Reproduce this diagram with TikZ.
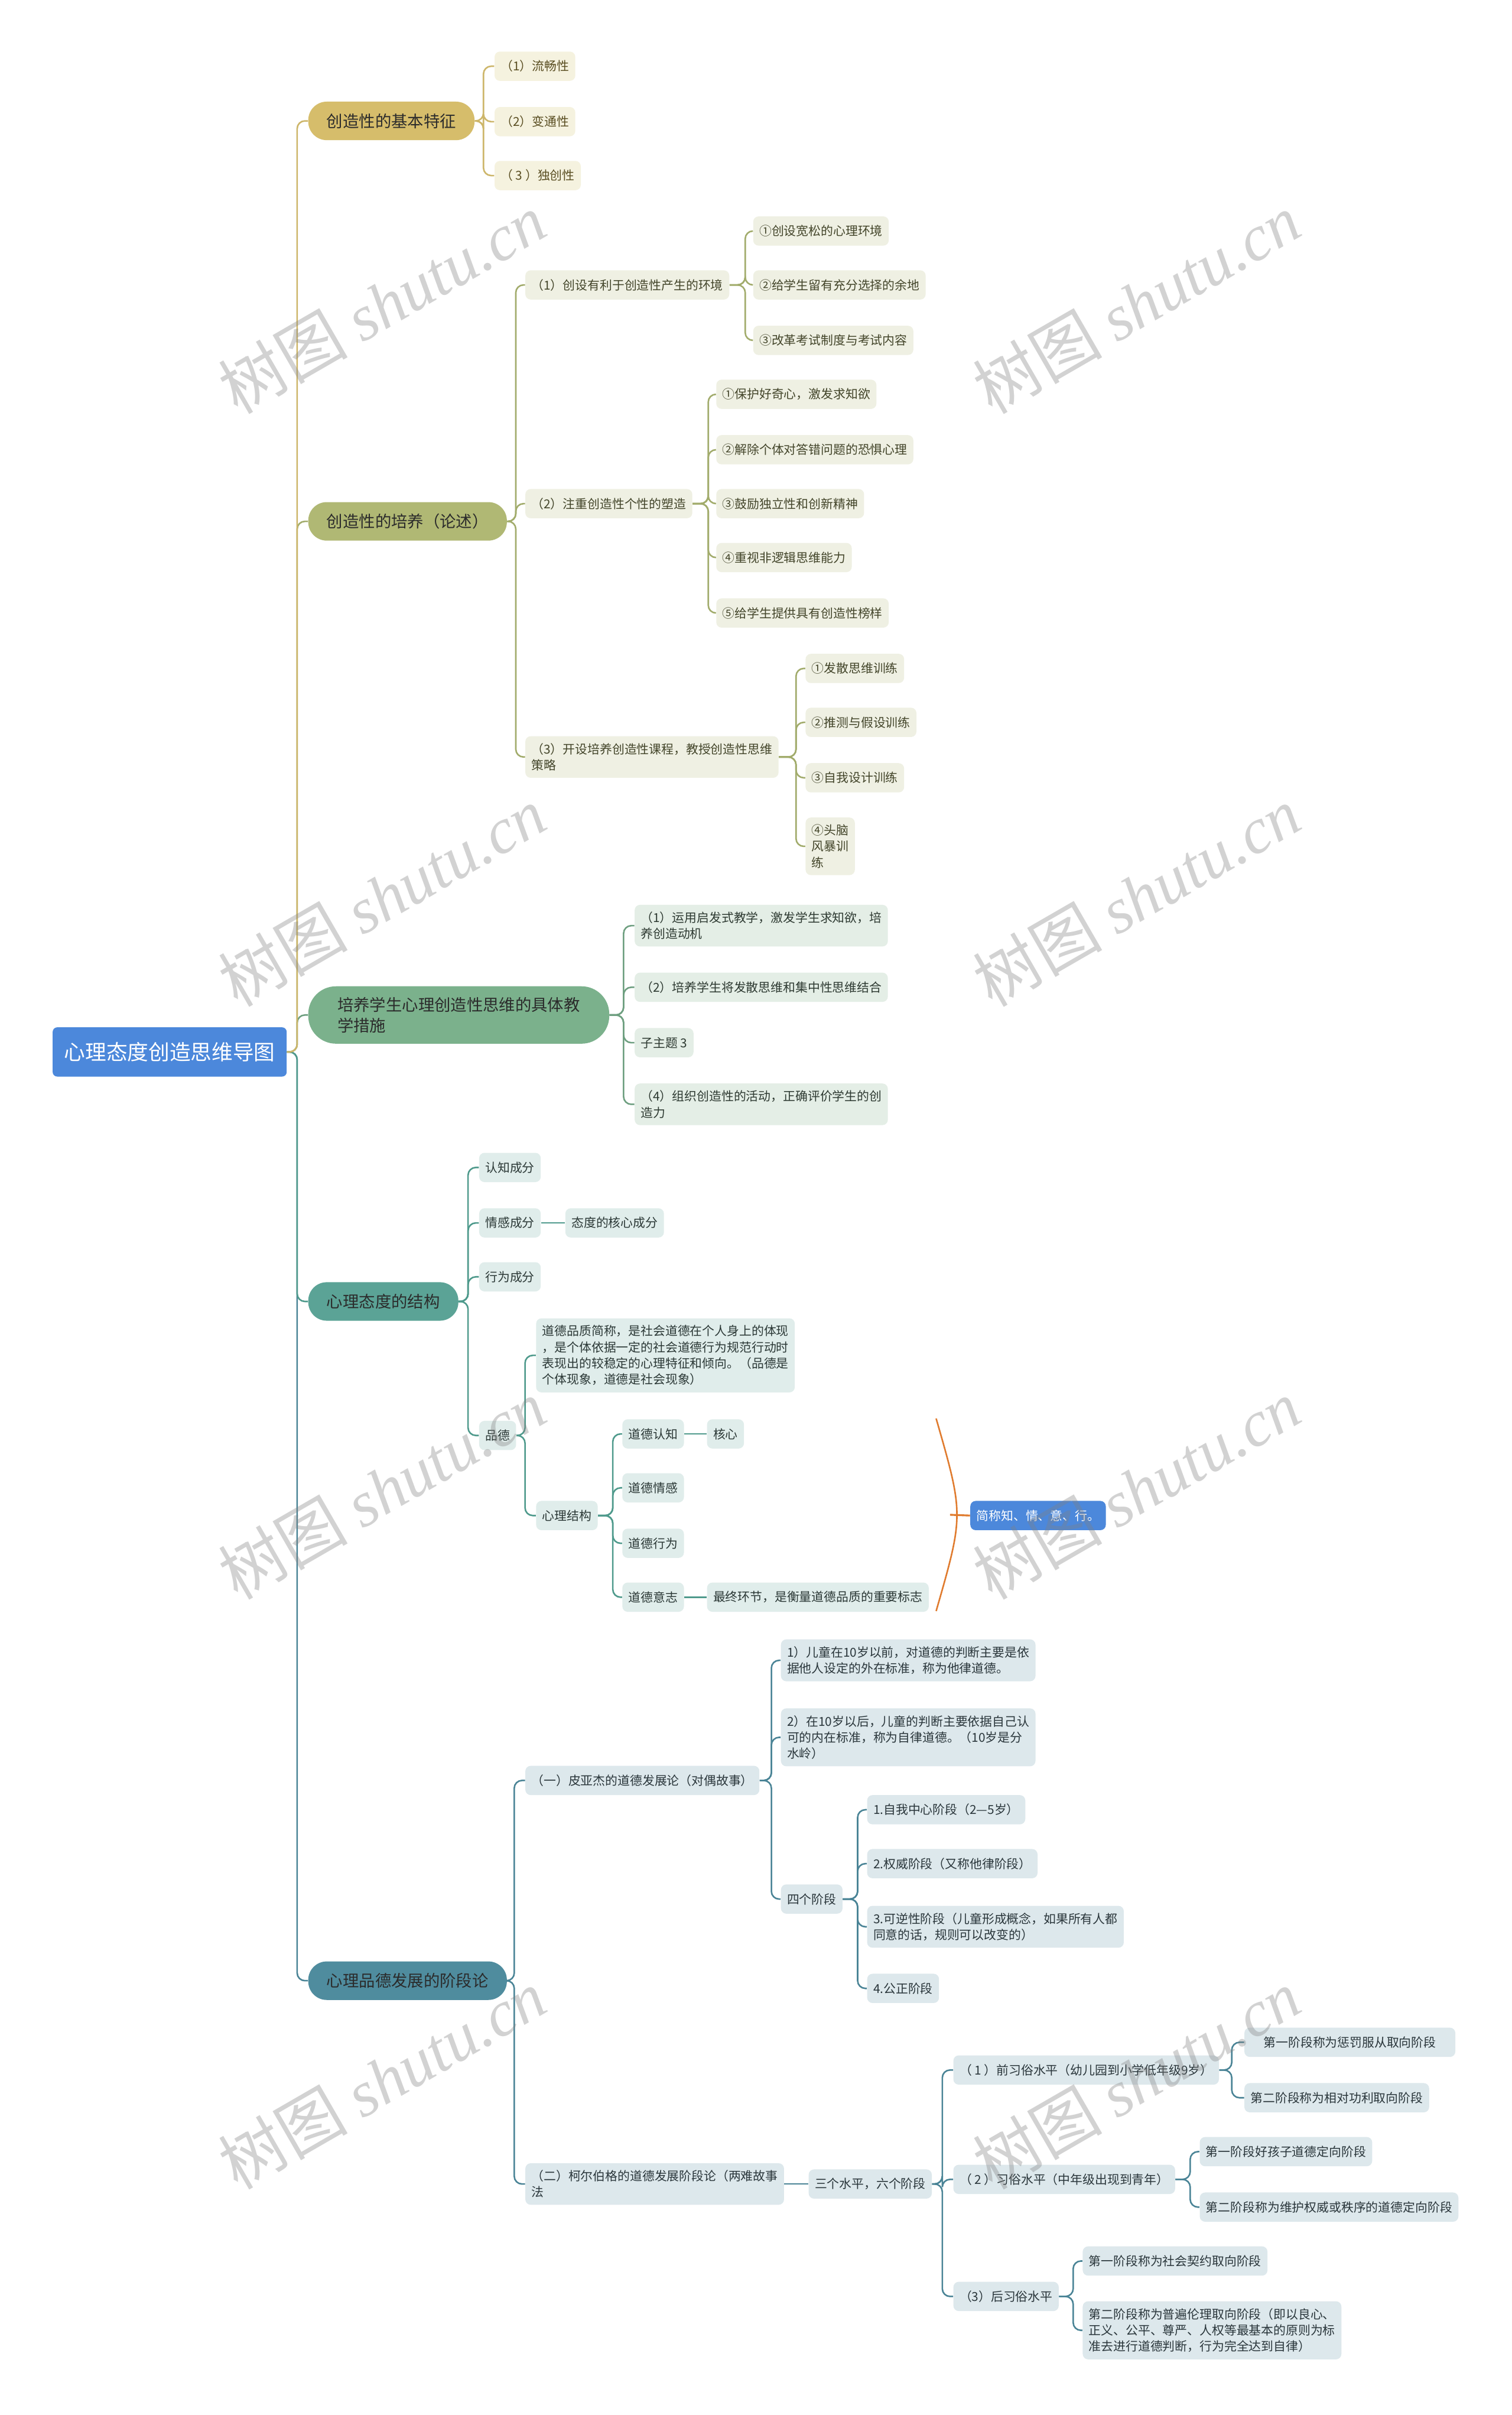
\documentclass[tikz,border=0pt]{standalone}
\usepackage{fontspec}
\setmainfont{Noto Sans CJK SC}
\newfontfamily\wmlat{Liberation Serif}
\usetikzlibrary{calc}
\definecolor{rootc}{HTML}{4C88DB}
\definecolor{aM}{HTML}{D6BD6B}\definecolor{aL}{HTML}{CDB66A}\definecolor{aF}{HTML}{F5F2DF}\definecolor{aT}{HTML}{5A4E22}
\definecolor{bM}{HTML}{B0B874}\definecolor{bL}{HTML}{A2AC6C}\definecolor{bF}{HTML}{EFF0E3}\definecolor{bT}{HTML}{43452A}
\definecolor{cM}{HTML}{7BB18C}\definecolor{cL}{HTML}{6E9F80}\definecolor{cF}{HTML}{E4EEE6}\definecolor{cT}{HTML}{2E3A32}
\definecolor{dM}{HTML}{5BA396}\definecolor{dL}{HTML}{4F9A8C}\definecolor{dF}{HTML}{E0EDEB}\definecolor{dT}{HTML}{2B3836}
\definecolor{eM}{HTML}{4F8C9E}\definecolor{eL}{HTML}{4A8496}\definecolor{eF}{HTML}{DDE8EC}\definecolor{eT}{HTML}{2A363B}
\definecolor{braceC}{HTML}{E07B2E}
\definecolor{mainT}{HTML}{2B2B2B}
\tikzset{
  rootbox/.style={fill=rootc, rounded corners=3pt, text=white, font=\fontsize{13.7}{16}\selectfont, inner xsep=7.5pt, inner ysep=4pt, minimum height=32pt, anchor=west},
  mainbox/.style={rounded corners=12pt, font=\fontsize{10.5}{13.5}\selectfont, text=mainT, inner xsep=12pt, inner ysep=4pt, minimum height=25pt, anchor=west, align=left},
  subbox/.style={rounded corners=3.5pt, font=\fontsize{8}{10.5}\selectfont, inner xsep=4pt, inner ysep=4.5pt, minimum height=19pt, anchor=west, align=left},
  kidA/.style={subbox, fill=aF, text=aT},
  kidB/.style={subbox, fill=bF, text=bT},
  kidC/.style={subbox, fill=cF, text=cT},
  kidD/.style={subbox, fill=dF, text=dT},
  kidE/.style={subbox, fill=eF, text=eT},
  sumbox/.style={subbox, fill=rootc, text=white},
  lkk/.style={draw, line width=1pt, rounded corners=5pt},
  wmk/.style={rotate=30, text=black!50, text opacity=0.35, font=\fontsize{42}{42}\selectfont},
}
\newcommand\conn[4]{\draw[lkk,#1] (#2.east) -| ($(#3.west)+(-#4,0)$) -- (#3.west);}
\begin{document}
\begin{tikzpicture}[x=1pt,y=-1pt]
\fill[white] (0,0) rectangle (982,1568);
\useasboundingbox (0,0) rectangle (982,1568);

% root
\node[rootbox] (root) at (34,683) {心理态度创造思维导图};

% branch 1
\node[mainbox, fill=aM] (b1) at (200,78.5) {创造性的基本特征};
\node[kidA] (b1a) at (321,43) {（1）流畅性};
\node[kidA] (b1b) at (321,79) {（2）变通性};
\node[kidA] (b1c) at (321,114) {（ 3 ）独创性};

% branch 2
\node[mainbox, fill=bM] (b2) at (200,338.5) {创造性的培养（论述）};
\node[kidB] (b2a) at (341,185) {（1）创设有利于创造性产生的环境};
\node[kidB] (b2a1) at (489,150) {①创设宽松的心理环境};
\node[kidB] (b2a2) at (489,185) {②给学生留有充分选择的余地};
\node[kidB] (b2a3) at (489,221) {③改革考试制度与考试内容};
\node[kidB] (b2b) at (341,327) {（2）注重创造性个性的塑造};
\node[kidB] (b2b1) at (465,256) {①保护好奇心，激发求知欲};
\node[kidB] (b2b2) at (465,292) {②解除个体对答错问题的恐惧心理};
\node[kidB] (b2b3) at (465,327) {③鼓励独立性和创新精神};
\node[kidB] (b2b4) at (465,362) {④重视非逻辑思维能力};
\node[kidB] (b2b5) at (465,398) {⑤给学生提供具有创造性榜样};
\node[kidB] (b2c) at (341,491.5) {（3）开设培养创造性课程，教授创造性思维\\策略};
\node[kidB] (b2c1) at (523,434) {①发散思维训练};
\node[kidB] (b2c2) at (523,469) {②推测与假设训练};
\node[kidB] (b2c3) at (523,505) {③自我设计训练};
\node[kidB] (b2c4) at (523,549.5) {④头脑\\风暴训\\练};

% branch 3
\node[mainbox, fill=cM, rounded corners=18pt, inner xsep=19pt, inner ysep=7pt] (b3) at (200,659) {培养学生心理创造性思维的具体教\\学措施};
\node[kidC] (b3a) at (412,601) {（1）运用启发式教学，激发学生求知欲，培\\养创造动机};
\node[kidC] (b3b) at (412,641) {（2）培养学生将发散思维和集中性思维结合};
\node[kidC] (b3c) at (412,677) {子主题 3};
\node[kidC] (b3d) at (412,717) {（4）组织创造性的活动，正确评价学生的创\\造力};

% branch 4
\node[mainbox, fill=dM] (b4) at (200,845) {心理态度的结构};
\node[kidD] (b4a) at (311,758) {认知成分};
\node[kidD] (b4b) at (311,794) {情感成分};
\node[kidD] (b4b1) at (367,794) {态度的核心成分};
\node[kidD] (b4c) at (311,829) {行为成分};
\node[kidD] (b4d) at (311,932) {品德};
\node[kidD] (b4d1) at (348,880) {道德品质简称，是社会道德在个人身上的体现\\，是个体依据一定的社会道德行为规范行动时\\表现出的较稳定的心理特征和倾向。（品德是\\个体现象，道德是社会现象）};
\node[kidD] (b4d2) at (348,984) {心理结构};
\node[kidD] (m1) at (404,931) {道德认知};
\node[kidD] (m1a) at (459,931) {核心};
\node[kidD] (m2) at (404,966) {道德情感};
\node[kidD] (m3) at (404,1002) {道德行为};
\node[kidD] (m4) at (404,1037) {道德意志};
\node[kidD] (m4a) at (459,1037) {最终环节，是衡量道德品质的重要标志};
\node[sumbox] (sum) at (630,984) {简称知、情、意、行。};
\coordinate (brT) at (608,921);
\coordinate (brM) at (617,983.5);
\coordinate (brB) at (608,1046);
\coordinate (brC) at (626,983.5);

% branch 5
\node[mainbox, fill=eM] (b5) at (200,1286) {心理品德发展的阶段论};
\node[kidE] (b5a) at (341,1156) {（一）皮亚杰的道德发展论（对偶故事）};
\node[kidE] (b5a1) at (507,1078) {1）儿童在10岁以前，对道德的判断主要是依\\据他人设定的外在标准，称为他律道德。};
\node[kidE] (b5a2) at (507,1128) {2）在10岁以后，儿童的判断主要依据自己认\\可的内在标准，称为自律道德。（10岁是分\\水岭）};
\node[kidE] (b5a3) at (507,1233) {四个阶段};
\node[kidE] (s1) at (563,1175) {1.自我中心阶段（2—5岁）};
\node[kidE] (s2) at (563,1210) {2.权威阶段（又称他律阶段）};
\node[kidE] (s3) at (563,1251) {3.可逆性阶段（儿童形成概念，如果所有人都\\同意的话，规则可以改变的）};
\node[kidE] (s4) at (563,1291) {4.公正阶段};
\node[kidE] (b5b) at (341,1418) {（二）柯尔伯格的道德发展阶段论（两难故事\\法};
\node[kidE] (b5b1) at (525,1418) {三个水平，六个阶段};
\node[kidE] (l1) at (619,1344) {（ 1 ）前习俗水平（幼儿园到小学低年级9岁）};
\node[kidE, minimum width=137pt] (l1a) at (808,1326) {第一阶段称为惩罚服从取向阶段};
\node[kidE] (l1b) at (808,1362) {第二阶段称为相对功利取向阶段};
\node[kidE] (l2) at (619,1415) {（ 2 ）习俗水平（中年级出现到青年）};
\node[kidE] (l2a) at (779,1397) {第一阶段好孩子道德定向阶段};
\node[kidE] (l2b) at (779,1433) {第二阶段称为维护权威或秩序的道德定向阶段};
\node[kidE] (l3) at (619,1491) {（3）后习俗水平};
\node[kidE] (l3a) at (703,1468) {第一阶段称为社会契约取向阶段};
\node[kidE] (l3b) at (703,1513) {第二阶段称为普遍伦理取向阶段（即以良心、\\正义、公平、尊严、人权等最基本的原则为标\\准去进行道德判断，行为完全达到自律）};

% connectors: root to main
\conn{eL}{root}{b5}{7}
\conn{dL}{root}{b4}{7}
\conn{cL}{root}{b3}{7}
\conn{bL}{root}{b2}{7}
\conn{aL}{root}{b1}{7}
% branch 1
\conn{aL}{b1}{b1a}{7}
\conn{aL}{b1}{b1b}{7}
\conn{aL}{b1}{b1c}{7}
% branch 2
\conn{bL}{b2}{b2a}{6}
\conn{bL}{b2}{b2b}{6}
\conn{bL}{b2}{b2c}{6}
\conn{bL}{b2a}{b2a1}{5}
\conn{bL}{b2a}{b2a2}{5}
\conn{bL}{b2a}{b2a3}{5}
\conn{bL}{b2b}{b2b1}{5}
\conn{bL}{b2b}{b2b2}{5}
\conn{bL}{b2b}{b2b3}{5}
\conn{bL}{b2b}{b2b4}{5}
\conn{bL}{b2b}{b2b5}{5}
\conn{bL}{b2c}{b2c1}{6}
\conn{bL}{b2c}{b2c2}{6}
\conn{bL}{b2c}{b2c3}{6}
\conn{bL}{b2c}{b2c4}{6}
% branch 3
\conn{cL}{b3}{b3a}{7}
\conn{cL}{b3}{b3b}{7}
\conn{cL}{b3}{b3c}{7}
\conn{cL}{b3}{b3d}{7}
% branch 4
\conn{dL}{b4}{b4a}{7}
\conn{dL}{b4}{b4b}{7}
\conn{dL}{b4}{b4c}{7}
\conn{dL}{b4}{b4d}{7}
\draw[lkk,dL] (b4b.east) -- (b4b1.west);
\conn{dL}{b4d}{b4d1}{7}
\conn{dL}{b4d}{b4d2}{7}
\conn{dL}{b4d2}{m1}{6}
\conn{dL}{b4d2}{m2}{6}
\conn{dL}{b4d2}{m3}{6}
\conn{dL}{b4d2}{m4}{6}
\draw[lkk,dL] (m1.east) -- (m1a.west);
\draw[lkk,dL] (m4.east) -- (m4a.west);
\draw[braceC, line width=1pt] (brT) .. controls (brC) .. (brB);
\draw[braceC, line width=1.2pt] (brM) -- (sum.west);
% branch 5
\conn{eL}{b5}{b5a}{7}
\conn{eL}{b5}{b5b}{7}
\conn{eL}{b5a}{b5a1}{6}
\conn{eL}{b5a}{b5a2}{6}
\conn{eL}{b5a}{b5a3}{6}
\conn{eL}{b5a3}{s1}{6}
\conn{eL}{b5a3}{s2}{6}
\conn{eL}{b5a3}{s3}{6}
\conn{eL}{b5a3}{s4}{6}
\draw[lkk,eL] (b5b.east) -- (b5b1.west);
\conn{eL}{b5b1}{l1}{7}
\conn{eL}{b5b1}{l2}{7}
\conn{eL}{b5b1}{l3}{7}
\conn{eL}{l1}{l1a}{8}
\conn{eL}{l1}{l1b}{8}
\conn{eL}{l2}{l2a}{6}
\conn{eL}{l2}{l2b}{6}
\conn{eL}{l3}{l3a}{6}
\conn{eL}{l3}{l3b}{6}

% watermarks
\node[wmk] (wm1) at (248,197) {树图 {\wmlat\itshape shutu.cn}};
\node[wmk] (wm2) at (738,197) {树图 {\wmlat\itshape shutu.cn}};
\node[wmk] (wm3) at (248,582) {树图 {\wmlat\itshape shutu.cn}};
\node[wmk] (wm4) at (738,582) {树图 {\wmlat\itshape shutu.cn}};
\node[wmk] (wm5) at (248,967) {树图 {\wmlat\itshape shutu.cn}};
\node[wmk] (wm6) at (738,967) {树图 {\wmlat\itshape shutu.cn}};
\node[wmk] (wm7) at (248,1350) {树图 {\wmlat\itshape shutu.cn}};
\node[wmk] (wm8) at (738,1350) {树图 {\wmlat\itshape shutu.cn}};
\end{tikzpicture}
\end{document}
